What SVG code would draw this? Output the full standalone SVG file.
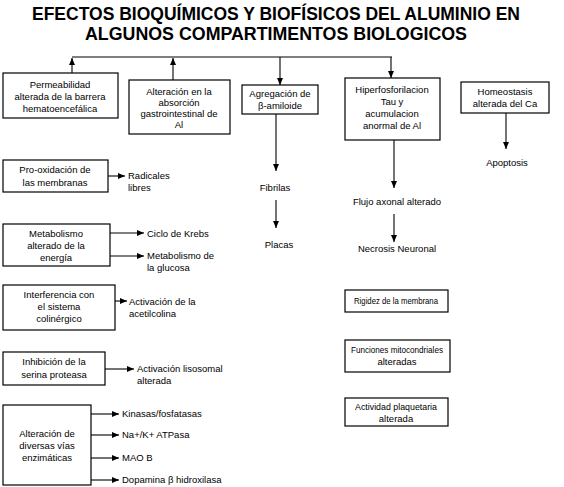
<svg xmlns="http://www.w3.org/2000/svg" width="564" height="487" viewBox="0 0 564 487">
<style>
text{font-family:"Liberation Sans",Arial,sans-serif;font-size:9.5px;fill:#000}
.t{font-size:19px;font-weight:bold}
.c{text-anchor:middle}
rect{fill:#fff;stroke:#000;stroke-width:1.2}
.ln line{stroke:#000;stroke-width:1.1;fill:none}
</style>
<defs>
<marker id="a" markerUnits="userSpaceOnUse" markerWidth="8" markerHeight="8" refX="7" refY="3" orient="auto"><path d="M0,0 L7,3 L0,6 z" fill="#000"/></marker>
</defs>
<rect x="0" y="0" width="564" height="487" style="stroke:none"/>
<g id="title">
<text class="t c" x="276" y="20" textLength="488" lengthAdjust="spacingAndGlyphs">EFECTOS BIOQUÍMICOS Y BIOFÍSICOS DEL ALUMINIO EN</text>
<text class="t c" x="276" y="40" textLength="382" lengthAdjust="spacingAndGlyphs">ALGUNOS COMPARTIMENTOS BIOLOGICOS</text>
</g>
<g id="connectors" class="ln">
<line x1="72" y1="57" x2="392" y2="57"/>
<line x1="72" y1="73" x2="72" y2="58" marker-end="url(#a)"/>
<line x1="173" y1="80" x2="173" y2="58" marker-end="url(#a)"/>
<line x1="280" y1="57" x2="280" y2="85" marker-end="url(#a)"/>
<line x1="391" y1="57" x2="391" y2="78" marker-end="url(#a)"/>
<line x1="276" y1="114" x2="276" y2="171" marker-end="url(#a)"/>
<line x1="276" y1="200" x2="276" y2="228" marker-end="url(#a)"/>
<line x1="394" y1="140" x2="394" y2="188" marker-end="url(#a)"/>
<line x1="394" y1="214" x2="394" y2="242" marker-end="url(#a)"/>
<line x1="506" y1="113" x2="506" y2="149" marker-end="url(#a)"/>
<line x1="108" y1="176" x2="125" y2="176" marker-end="url(#a)"/>
<line x1="110" y1="233" x2="144" y2="233" marker-end="url(#a)"/>
<line x1="110" y1="256" x2="144" y2="256" marker-end="url(#a)"/>
<line x1="115" y1="301" x2="127" y2="301" marker-end="url(#a)"/>
<line x1="105" y1="369" x2="134" y2="369" marker-end="url(#a)"/>
<line x1="91" y1="414" x2="119" y2="414" marker-end="url(#a)"/>
<line x1="91" y1="435" x2="119" y2="435" marker-end="url(#a)"/>
<line x1="91" y1="458" x2="119" y2="458" marker-end="url(#a)"/>
<line x1="91" y1="480" x2="119" y2="480" marker-end="url(#a)"/>
</g>
<g id="n-permeabilidad">
<rect x="3" y="73" width="115" height="45"/>
<text class="c" x="60" y="88">Permeabilidad</text>
<text class="c" x="60" y="100">alterada de la barrera</text>
<text class="c" x="60" y="112">hematoencefálica</text>
</g>
<g id="n-absorcion">
<rect x="129" y="80" width="101" height="54"/>
<text class="c" x="179" y="95">Alteración en la</text>
<text class="c" x="179" y="106">absorción</text>
<text class="c" x="179" y="117">gastrointestinal de</text>
<text class="c" x="179" y="128">Al</text>
</g>
<g id="n-agregacion">
<rect x="242" y="85" width="76" height="29"/>
<text class="c" x="280" y="97">Agregación de</text>
<text class="c" x="280" y="109">β-amiloide</text>
</g>
<g id="n-hiperfosforilacion">
<rect x="345" y="78" width="95" height="62"/>
<text class="c" x="392" y="93">Hiperfosforilacion</text>
<text class="c" x="392" y="105">Tau y</text>
<text class="c" x="392" y="117">acumulacion</text>
<text class="c" x="392" y="129">anormal de Al</text>
</g>
<g id="n-homeostasis">
<rect x="461" y="82" width="88" height="31"/>
<text class="c" x="505" y="95">Homeostasis</text>
<text class="c" x="505" y="107">alterada del  Ca</text>
</g>
<g id="n-apoptosis"><text class="c" x="507" y="166">Apoptosis</text></g>
<g id="n-fibrilas"><text class="c" x="275" y="191">Fibrilas</text></g>
<g id="n-placas"><text class="c" x="279" y="248">Placas</text></g>
<g id="n-flujo"><text class="c" x="397" y="205">Flujo axonal alterado</text></g>
<g id="n-necrosis"><text class="c" x="397" y="252">Necrosis Neuronal</text></g>
<g id="n-prooxidacion">
<rect x="3" y="160" width="105" height="32"/>
<text class="c" x="55" y="173">Pro-oxidación de</text>
<text class="c" x="55" y="186">las membranas</text>
</g>
<g id="n-radicales">
<text x="128" y="179">Radicales</text>
<text x="128" y="191">libres</text>
</g>
<g id="n-metabolismo">
<rect x="3" y="224" width="107" height="42"/>
<text class="c" x="56" y="237">Metabolismo</text>
<text class="c" x="56" y="249">alterado de la</text>
<text class="c" x="56" y="261">energía</text>
</g>
<g id="n-krebs"><text x="147" y="237">Ciclo de Krebs</text></g>
<g id="n-glucosa">
<text x="147" y="259">Metabolismo de</text>
<text x="147" y="271">la glucosa</text>
</g>
<g id="n-interferencia">
<rect x="3" y="285" width="112" height="45"/>
<text class="c" x="59" y="298">Interferencia con</text>
<text class="c" x="59" y="310">el sistema</text>
<text class="c" x="59" y="322">colinérgico</text>
</g>
<g id="n-acetilcolina">
<text x="129" y="305">Activación de la</text>
<text x="129" y="317">acetilcolina</text>
</g>
<g id="n-inhibicion">
<rect x="3" y="352" width="102" height="33"/>
<text class="c" x="54" y="365">Inhibición de la</text>
<text class="c" x="54" y="378">serina proteasa</text>
</g>
<g id="n-lisosomal">
<text x="137" y="372">Activación lisosomal</text>
<text x="137" y="384">alterada</text>
</g>
<g id="n-enzimaticas">
<rect x="3" y="405" width="88" height="80"/>
<text class="c" x="47" y="437">Alteración de</text>
<text class="c" x="47" y="449">diversas vías</text>
<text class="c" x="47" y="461">enzimáticas</text>
</g>
<g id="n-kinasas"><text x="122" y="417">Kinasas/fosfatasas</text></g>
<g id="n-atpasa"><text x="122" y="438">Na+/K+ ATPasa</text></g>
<g id="n-maob"><text x="122" y="461">MAO B</text></g>
<g id="n-dopamina"><text x="122" y="483">Dopamina β hidroxilasa</text></g>
<g id="n-rigidez">
<rect x="345" y="290" width="103" height="22"/>
<text class="c" x="396" y="304" textLength="84" lengthAdjust="spacingAndGlyphs">Rigidez de la membrana</text>
</g>
<g id="n-mitocondriales">
<rect x="345" y="340" width="105" height="32"/>
<text class="c" x="397" y="353" textLength="92" lengthAdjust="spacingAndGlyphs">Funciones mitocondriales</text>
<text class="c" x="397" y="365">alteradas</text>
</g>
<g id="n-plaquetaria">
<rect x="345" y="398" width="103" height="28"/>
<text class="c" x="396" y="410" textLength="82" lengthAdjust="spacingAndGlyphs">Actividad plaquetaria</text>
<text class="c" x="396" y="422">alterada</text>
</g>
</svg>
